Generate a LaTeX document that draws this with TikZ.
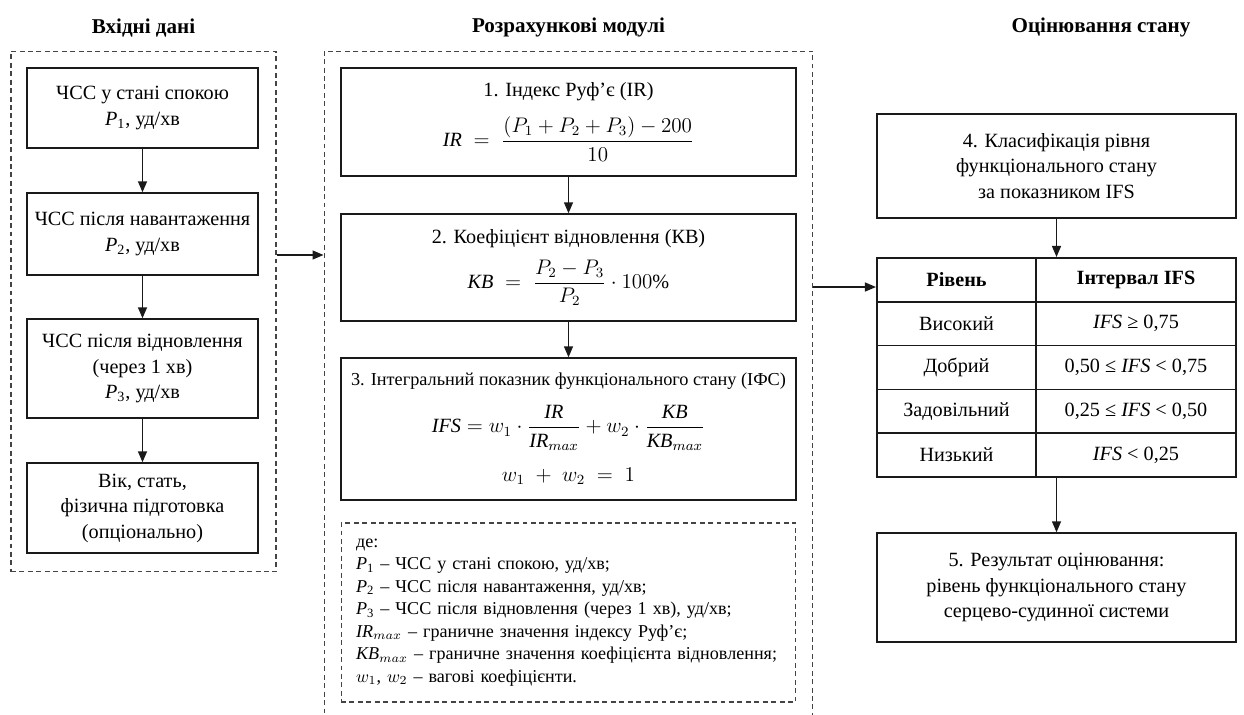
\documentclass[tikz,border=0pt]{standalone}
\usepackage{amsmath}
\usepackage{fontspec}
\setmainfont{Liberation Serif}
\definecolor{FlowInk}  {HTML}{1A1A1A}
\definecolor{FrameInk} {HTML}{444444}
\usetikzlibrary{arrows.meta,positioning,matrix}
\tikzset{
  inbox/.style={rectangle,draw=FlowInk,line width=0.8pt,
    font=\fontsize{11.5}{14.5}\selectfont,align=center,
    minimum width=4.62cm,inner sep=3pt},
  calcbox/.style={inbox,minimum width=9.1cm},
  classbox/.style={inbox,minimum width=7.18cm},
  grpframe/.style={rectangle,draw=FrameInk,line width=0.6pt,
    dash pattern=on 2.8pt off 2pt},
  notebox/.style={grpframe,font=\fontsize{10.3}{12.8}\selectfont,
    align=left,text width=8.5cm,inner xsep=0.3cm,
    minimum height=3.58cm},
  grptitle/.style={font=\fontsize{12}{14}\selectfont\bfseries},
  cellbox/.style={rectangle,draw=FlowInk,line width=0.8pt,
    font=\fontsize{11.5}{14}\selectfont,anchor=center,
    minimum height=0.876cm,inner sep=2pt},
  flowedge/.style={-{Triangle[length=2.2mm,width=1.8mm]},FlowInk,line width=0.8pt},
}
\newcommand{\hrP}[1]{\textit{P}\textsubscript{#1}}

\begin{document}
\begin{tikzpicture}[x=0.02cm,y=-0.02cm]
  \useasboundingbox(0,0)rectangle(1244,715);
  \clip(0,0)rectangle(1244,715);
  \node[grpframe,minimum width=5.3cm,minimum height=10.42cm](InFrame)at(143.5,311.5){};
  \node[grpframe,minimum width=9.78cm,minimum height=13.68cm](CalcFrame)at(568.5,393){};
  \node[grptitle,above=1.5mm of InFrame]{Вхідні дані};
  \node[grptitle,above=1.5mm of CalcFrame]{Розрахункові модулі};
  \node[grptitle](EvalTitle)at(1101,27){Оцінювання стану};

  \node[inbox,minimum height=1.6cm](In1)at(142.5,108)
    {ЧСС у стані спокою\\ \hrP{1}, уд/хв};
  \node[inbox,minimum height=1.64cm](In2)at(142.5,234)
    {ЧСС після навантаження\\ \hrP{2}, уд/хв};
  \node[inbox,minimum height=1.98cm](In3)at(142.5,368.5)
    {ЧСС після відновлення\\ (через 1 хв)\\ \hrP{3}, уд/хв};
  \node[inbox,minimum height=1.8cm](In4)at(142.5,508)
    {Вік, стать,\\ фізична підготовка\\ (опціонально)};
  \draw[flowedge](In1)--(In2);
  \draw[flowedge](In2)--(In3);
  \draw[flowedge](In3)--(In4);

  \node[calcbox,minimum height=2.16cm](Calc1)at(568.5,122)
    {1. Індекс Руф’є (IR)\\[8pt]
     $\displaystyle \mathit{IR}\;=\;\frac{(P_1+P_2+P_3)-200}{10}$};
  \node[calcbox,minimum height=2.14cm](Calc2)at(568.5,267.5)
    {2. Коефіцієнт відновлення (КВ)\\[6pt]
     $\displaystyle \mathit{KB}\;=\;\frac{P_2-P_3}{P_2}\cdot 100\%$};
  \node[calcbox,minimum height=2.84cm](Calc3)at(568.5,429)
    {{\fontsize{10.4}{13}\selectfont 3. Інтегральний показник функціонального стану (ІФС)}\\[8pt]
     $\displaystyle \mathit{IFS}=w_1\cdot\frac{\mathit{IR}}{\mathit{IR}_{max}}
       +w_2\cdot\frac{\mathit{KB}}{\mathit{KB}_{max}}$\\[9pt]
     $w_1\;+\;w_2\;=\;1$};
  \draw[flowedge](Calc1)--(Calc2);
  \draw[flowedge](Calc2)--(Calc3);
  \node[notebox](Legend)at(568.5,612.5)
    {де:\\
     \hrP{1} -- ЧСС у стані спокою, уд/хв;\\
     \hrP{2} -- ЧСС після навантаження, уд/хв;\\
     \hrP{3} -- ЧСС після відновлення (через 1 хв), уд/хв;\\
     $\mathit{IR}_{max}$ -- граничне значення індексу Руф’є;\\
     $\mathit{KB}_{max}$ -- граничне значення коефіцієнта відновлення;\\
     $w_1$, $w_2$ -- вагові коефіцієнти.};

  \node[classbox,minimum height=2.08cm](Class4)at(1056.5,166)
    {4. Класифікація рівня\\ функціонального стану\\ за показником IFS};
  \matrix[matrix of nodes,nodes={cellbox},inner sep=0pt,
    column sep=-0.8pt,row sep=-0.8pt,
    column 1/.style={nodes={minimum width=3.18cm}},
    column 2/.style={nodes={minimum width=4cm}}](Levels)at(1056.5,367.5){
    \textbf{Рівень} & \textbf{Інтервал IFS}\\
    Високий & \textit{IFS} ≥ 0,75\\
    Добрий & 0,50 ≤ \textit{IFS} < 0,75\\
    Задовільний & 0,25 ≤ \textit{IFS} < 0,50\\
    Низький & \textit{IFS} < 0,25\\
  };
  \node[classbox,minimum height=2.18cm](Result5)at(1056.5,587.5)
    {5. Результат оцінювання:\\ рівень функціонального стану\\ серцево-судинної системи};
  \draw[flowedge](Class4)--(Levels);
  \draw[flowedge](Levels)--(Result5);

  \coordinate(InOut)at([yshift=1.13cm]InFrame.east);
  \coordinate(CalcOut)at([yshift=2.12cm]CalcFrame.east);
  \draw[flowedge](InOut)--(InOut-|CalcFrame.west);
  \draw[flowedge](CalcOut)--(CalcOut-|Levels.west);
\end{tikzpicture}
\end{document}
